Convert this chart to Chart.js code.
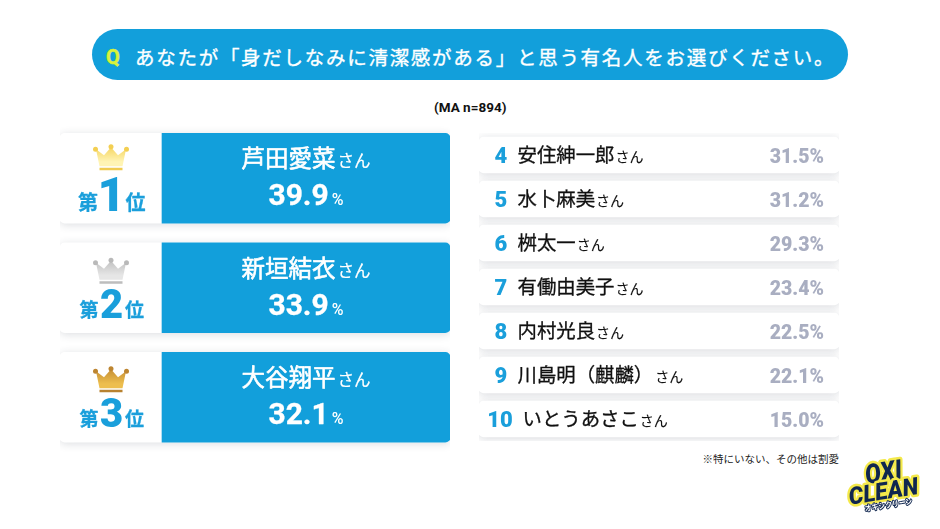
<!DOCTYPE html>
<html lang="ja"><head><meta charset="utf-8">
<script src="https://cdn.jsdelivr.net/npm/chart.js@4"></script>
<style>
html,body{margin:0;padding:0;background:#fff;width:940px;height:529px;overflow:hidden}
body{position:relative;font-family:"Noto Sans CJK JP",sans-serif}
canvas{position:absolute;display:block}
.pill{position:absolute;left:92px;top:29px;width:756px;height:51px;border-radius:26px;background:#129fdb}
.q{position:absolute;left:106px;top:45px;font:700 20px/24px Roboto;color:#d9f23c;-webkit-text-stroke:.5px #d9f23c}
.ttl{position:absolute;left:135px;top:43px;font:400 19.5px/27px "Noto Sans CJK JP";letter-spacing:1.72px;color:#fff;white-space:nowrap;-webkit-text-stroke:.35px #fff}
.n{position:absolute;left:434px;top:99px;font:700 13.5px/16px Roboto,"Noto Sans CJK JP";color:#111;white-space:nowrap}
.note{position:absolute;right:101px;top:451px;font:400 10.5px/16px "Noto Sans CJK JP";color:#222;white-space:nowrap}
svg{position:absolute;left:840px;top:448px}
</style></head><body>
<div class="pill"></div><div class="q" id="q"></div><div class="ttl" id="ttl"></div>
<div class="n" id="n"></div><div class="note" id="note"></div>
<canvas id="top3" width="430" height="349" style="left:40px;top:113px;width:430px;height:349px"></canvas>
<canvas id="rest" width="400" height="328" style="left:459px;top:123px;width:400px;height:328px"></canvas>
<svg width="90" height="70" viewBox="0 0 90 70">
 <g transform="rotate(-9 45 35)" font-family="Roboto" font-weight="900" font-style="italic" text-anchor="middle" stroke-linejoin="round">
  <g fill="#10264f" stroke="#f4e94a" stroke-width="5" paint-order="stroke">
   <text x="45" y="33" font-size="27" textLength="37" lengthAdjust="spacingAndGlyphs">OXI</text>
   <text x="42" y="51" font-size="24" textLength="70" lengthAdjust="spacingAndGlyphs">CLEAN</text>
  </g>
  <text x="45" y="60" font-size="8" font-family="Noto Sans CJK JP" font-style="normal" font-weight="700" fill="#fff" stroke="#10264f" stroke-width="2" paint-order="stroke" textLength="48" lengthAdjust="spacingAndGlyphs">オキシクリーン</text>
 </g>
</svg>
<script>
const questionMark = "Q";
const questionText = "あなたが「身だしなみに清潔感がある」と思う有名人をお選びください。";
const sampleText = "(MA n=894)";
const noteText = "※特にいない、その他は割愛";
const honorific = "さん";

const topNames = ["芦田愛菜", "新垣結衣", "大谷翔平"];
const topRates = [39.9, 33.9, 32.1];
const topRanks = [1, 2, 3];

const restNames = ["安住紳一郎", "水卜麻美", "桝太一", "有働由美子", "内村光良", "川島明（麒麟）", "いとうあさこ"];
const restRates = [31.5, 31.2, 29.3, 23.4, 22.5, 22.1, 15.0];
const restRanks = [4, 5, 6, 7, 8, 9, 10];

document.getElementById("q").textContent = questionMark;
document.getElementById("ttl").textContent = questionText;
document.getElementById("n").textContent = sampleText;
document.getElementById("note").textContent = noteText;

const BLUE = "#129fdb", RANKBLUE = "#1a9fdb", GREY = "#a9aec1";
const JP = '"Noto Sans CJK JP"';

function cardShadow(blur, off, alpha) {
  return {
    id: "cardShadow",
    beforeDatasetDraw(chart, args) {
      if (args.index !== 0) return;
      const c = chart.ctx; c.save();
      c.shadowColor = `rgba(40,50,70,${alpha})`; c.shadowBlur = blur; c.shadowOffsetY = off;
    },
    afterDatasetDraw(chart, args) { if (args.index === 0) chart.ctx.restore(); }
  };
}

const crownColors = [
  ["#f3cf52", "#fff4b4", "#f0cb50"],
  ["#b9b9b9", "#e6e6e6", "#bdbdbd"],
  ["#bd8530", "#edbe4e", "#b88230"]
];
const crownTop = [-34, -30, -31];

function drawCrown(c, cx, top, cols) {
  const g = c.createLinearGradient(0, top, 0, top + 22);
  g.addColorStop(0, cols[0]); g.addColorStop(0.8, cols[1]); g.addColorStop(1, cols[1]);
  c.fillStyle = g;
  const p = [[-15,5],[-11.5,22],[11.5,22],[15,5],[7,11],[0,3],[-7,11]];
  c.beginPath();
  p.forEach((q, i) => i ? c.lineTo(cx + q[0], top + q[1]) : c.moveTo(cx + q[0], top + q[1]));
  c.closePath(); c.fill();
  c.fillStyle = cols[2];
  c.fillRect(cx - 11.5, top + 23.5, 23, 2.5);
  c.fillStyle = cols[0];
  [[-15.5,5],[0,2.5],[15.5,5]].forEach(q => { c.beginPath(); c.arc(cx + q[0], top + q[1], 2.5, 0, 7); c.fill(); });
}

function txt(c, s, x, y, font, color, align, stroke) {
  c.font = font; c.fillStyle = color; c.textAlign = align || "left"; c.textBaseline = "alphabetic";
  c.fillText(s, x, y);
  if (stroke) { c.strokeStyle = color; c.lineWidth = stroke; c.lineJoin = "round"; c.strokeText(s, x, y); }
}

const TOP_SPLIT = 102 / 390;

const topLabels = {
  id: "topLabels",
  afterDatasetsDraw(chart) {
    const c = chart.ctx, ys = chart.scales.y, xs = chart.scales.x;
    const split = xs.getPixelForValue(TOP_SPLIT), right = xs.getPixelForValue(1);
    const mid = (split + right) / 2, left = xs.getPixelForValue(0);
    const rates = chart.data.datasets[2].data;
    c.save();
    chart.data.labels.forEach((name, i) => {
      const y = ys.getPixelForValue(i);
      const cx = left + 51;
      drawCrown(c, cx, y + crownTop[i], crownColors[i]);
      const big = i === 0;
      const rb = y + (big ? 32 : 29);
      txt(c, "第", cx - (big ? 33 : 31.5), rb, `700 ${big ? 20 : 19}px ${JP}`, RANKBLUE, "left", 0.3);
      txt(c, String(topRanks[i]), cx + 0.5, y + (big ? 33 : 30), `900 ${big ? 48 : 40}px Roboto`, RANKBLUE, "center");
      txt(c, "位", cx + (big ? 14.5 : 14), rb, `700 ${big ? 20 : 19}px ${JP}`, RANKBLUE, "left", 0.3);

      const nf = `400 23.5px ${JP}`, hf = `400 16.5px ${JP}`;
      c.font = nf; const w1 = c.measureText(name).width;
      c.font = hf; const w2 = c.measureText(honorific).width;
      const sx = mid - (w1 + w2 + 2) / 2;
      txt(c, name, sx, y - 11, nf, "#fff", "left", 0.6);
      txt(c, honorific, sx + w1 + 2, y - 11, hf, "#fff", "left", 0.2);

      const vf = "700 30px Roboto", pf = "500 16px Roboto", v = rates[i].toFixed(1);
      c.font = vf; const w3 = c.measureText(v).width;
      c.font = pf; const w4 = c.measureText("%").width;
      const vx = mid - (w3 + w4 + 3) / 2;
      txt(c, v, vx, y + 27, vf, "#fff", "left", 0.3);
      txt(c, "%", vx + w3 + 3, y + 27, pf, "#fff");
    });
    c.restore();
  }
};

const restLabels = {
  id: "restLabels",
  afterDatasetsDraw(chart) {
    const c = chart.ctx, ys = chart.scales.y, xs = chart.scales.x;
    const left = xs.getPixelForValue(0), right = xs.getPixelForValue(1);
    const rates = chart.data.datasets[1].data;
    c.save();
    chart.data.labels.forEach((name, i) => {
      const y = ys.getPixelForValue(i), two = restRanks[i] >= 10;
      txt(c, String(restRanks[i]), left + (two ? 21 : 22), y + 8, "900 22px Roboto", RANKBLUE, "center");
      const nx = left + (two ? 43.5 : 38.5);
      const nf = `400 19.4px ${JP}`, hf = `400 14px ${JP}`;
      txt(c, name, nx, y + 7, nf, "#111", "left", 0.3);
      c.font = nf; const w = c.measureText(name).width;
      txt(c, honorific, nx + w + (name.endsWith("）") ? 2 : 1), y + 7, hf, "#111", "left", 0.1);
      txt(c, rates[i].toFixed(1) + "%", right - 15, y + 8, "900 19.5px Roboto", GREY, "right");
    });
    c.restore();
  }
};

const hiddenAxes = (labels) => ({
  x: { display: false, min: 0, max: 1 },
  xRate: { display: false, axis: "x", min: 0, max: 100 },
  y: { display: false, type: "category", labels }
});
const baseOpts = (padding, labels) => ({
  indexAxis: "y", responsive: false, animation: false, maintainAspectRatio: false,
  layout: { padding }, scales: hiddenAxes(labels),
  plugins: { legend: { display: false }, tooltip: { enabled: false }, title: { display: false } }
});

new Chart(document.getElementById("top3"), {
  type: "bar",
  data: {
    labels: topNames,
    datasets: [
      { label: "card", data: topNames.map(() => [0, 1]), backgroundColor: "#fff", barThickness: 90,
        grouped: false, order: 3, borderRadius: 5, borderSkipped: false },
      { label: "panel", data: topNames.map(() => [TOP_SPLIT, 1]), backgroundColor: BLUE, barThickness: 90,
        grouped: false, order: 2, borderSkipped: false,
        borderRadius: { topLeft: 0, bottomLeft: 0, topRight: 5, bottomRight: 5 } },
      { label: "回答率", data: topRates, xAxisID: "xRate", backgroundColor: "transparent", barThickness: 90,
        grouped: false, order: 1 }
    ]
  },
  options: baseOpts({ left: 20, right: 20, top: 10.5, bottom: 10 }, topNames),
  plugins: [cardShadow(8, 1.5, 0.16), topLabels]
});

new Chart(document.getElementById("rest"), {
  type: "bar",
  data: {
    labels: restNames,
    datasets: [
      { label: "card", data: restNames.map(() => [0, 1]), backgroundColor: "#fff", barThickness: 36,
        grouped: false, order: 2, borderRadius: 5, borderSkipped: false },
      { label: "回答率", data: restRates, xAxisID: "xRate", backgroundColor: "transparent", barThickness: 36,
        grouped: false, order: 1 }
    ]
  },
  options: baseOpts({ left: 20, right: 20, top: 10, bottom: 10 }, restNames),
  plugins: [cardShadow(8, 1.5, 0.18), restLabels]
});
</script>
</body></html>
